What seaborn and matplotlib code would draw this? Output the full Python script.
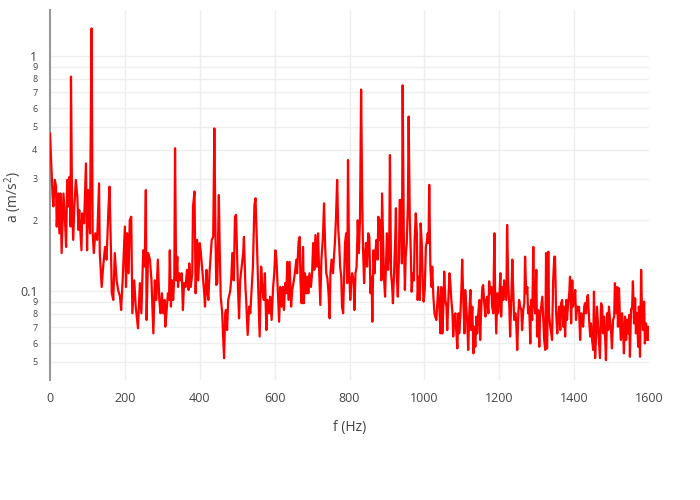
import matplotlib
matplotlib.use('Agg')
import matplotlib.pyplot as plt
import seaborn as sns
import pandas as pd
import numpy as np


# spectrum (frequency in Hz, acceleration in m/s^2)
freq_0 = [0, 7, 9, 13, 16, 18, 22, 25, 28, 31, 36, 40, 43, 46, 49, 52, 55, 56, 59, 62,
          65, 69, 73, 76, 78, 84, 86, 91, 96, 99, 102, 107, 108, 111, 114, 117, 121, 126,
          131, 133, 138, 142, 147, 151, 156, 159, 163, 165, 169, 173, 178, 182, 187, 190,
          194, 200, 203, 206, 210, 213, 217, 220, 225, 229, 235, 240, 244, 249, 253, 256,
          258, 262]
acc_0 = [0.469, 0.252, 0.229, 0.297, 0.278, 0.188, 0.260, 0.176, 0.260, 0.145, 0.260,
         0.200, 0.154, 0.297, 0.229, 0.306, 0.188, 0.817, 0.229, 0.165, 0.229, 0.297,
         0.252, 0.182, 0.221, 0.149, 0.214, 0.194, 0.349, 0.149, 0.269, 0.176, 0.338,
         1.31, 0.176, 0.145, 0.176, 0.165, 0.287, 0.145, 0.104, 0.127, 0.154, 0.136,
         0.221, 0.278, 0.145, 0.098, 0.0916, 0.145, 0.111, 0.101, 0.0946, 0.083, 0.111,
         0.188, 0.104, 0.176, 0.119, 0.200, 0.207, 0.0804, 0.111, 0.0858, 0.0694, 0.108,
         0.0804, 0.149, 0.127, 0.269, 0.0753, 0.145]

freq_1 = [267, 271, 276, 280, 284, 288, 292, 295, 299, 302, 306, 308, 311, 315, 318, 320,
          323, 326, 329, 332, 334, 337, 340, 342, 345, 348, 352, 355, 358, 362, 366, 370,
          372, 376, 380, 382, 386, 389, 393, 396, 400, 403, 406, 409, 412, 414, 418, 420,
          423, 426, 429, 432, 436, 439, 442, 444, 447, 451, 453, 456, 460, 462, 465, 468,
          470, 473, 476, 478, 481, 484, 487, 491, 494, 497, 500, 502, 505, 508, 512, 516,
          518, 522, 524, 528, 532, 535, 539, 542, 546, 549, 553]
acc_1 = [0.136, 0.111, 0.066, 0.111, 0.0916, 0.136, 0.0916, 0.0804, 0.0978, 0.0804,
         0.0916, 0.0705, 0.0804, 0.0978, 0.0916, 0.149, 0.0858, 0.111, 0.0916, 0.115,
         0.405, 0.111, 0.140, 0.104, 0.119, 0.111, 0.119, 0.083, 0.108, 0.104, 0.123,
         0.101, 0.131, 0.104, 0.119, 0.229, 0.265, 0.0978, 0.165, 0.111, 0.160, 0.145,
         0.127, 0.111, 0.0978, 0.0858, 0.123, 0.101, 0.0916, 0.119, 0.140, 0.165, 0.170,
         0.492, 0.176, 0.106, 0.108, 0.256, 0.160, 0.0946, 0.0804, 0.066, 0.0518, 0.0804,
         0.083, 0.0682, 0.0916, 0.0946, 0.0993, 0.111, 0.145, 0.111, 0.207, 0.211, 0.136,
         0.104, 0.0765, 0.111, 0.127, 0.145, 0.170, 0.104, 0.0916, 0.065, 0.0858, 0.0804,
         0.104, 0.127, 0.232, 0.248, 0.154]

freq_2 = [560, 564, 567, 571, 574, 578, 581, 585, 588, 592, 596, 599, 602, 605, 609, 612,
          615, 619, 622, 625, 628, 631, 634, 637, 640, 644, 647, 651, 654, 658, 660, 664,
          667, 669, 672, 676, 678, 681, 684, 687, 690, 693, 697, 700, 703, 706, 709, 713,
          716, 718, 722, 725, 729, 732, 735, 738, 741, 744, 747, 749, 752, 756, 758, 761,
          764, 767, 770, 772, 775, 778, 780, 783, 786, 788, 791, 794, 796, 799, 802, 804,
          807, 811, 813, 816, 819, 822, 825, 828, 831, 834, 836, 839, 842, 844, 847, 850]
acc_2 = [0.064, 0.127, 0.104, 0.0916, 0.119, 0.0682, 0.0916, 0.0804, 0.0946, 0.0753,
         0.104, 0.119, 0.149, 0.136, 0.0946, 0.074, 0.104, 0.0858, 0.104, 0.083, 0.108,
         0.0978, 0.133, 0.0916, 0.133, 0.0858, 0.101, 0.110, 0.119, 0.136, 0.119, 0.162,
         0.170, 0.111, 0.0887, 0.154, 0.0887, 0.119, 0.0978, 0.115, 0.0978, 0.119, 0.104,
         0.119, 0.160, 0.123, 0.173, 0.127, 0.176, 0.136, 0.0872, 0.136, 0.170, 0.236,
         0.154, 0.119, 0.113, 0.0978, 0.0765, 0.119, 0.136, 0.119, 0.136, 0.160, 0.207,
         0.297, 0.182, 0.165, 0.127, 0.115, 0.0858, 0.0804, 0.119, 0.160, 0.176, 0.108,
         0.361, 0.127, 0.0916, 0.104, 0.119, 0.111, 0.083, 0.119, 0.127, 0.200, 0.145,
         0.200, 0.72, 0.244, 0.154, 0.108, 0.145, 0.160, 0.127, 0.176]

freq_3 = [853, 856, 859, 861, 864, 867, 869, 872, 875, 877, 880, 883, 885, 887, 890, 892,
          895, 898, 900, 903, 906, 908, 911, 914, 916, 919, 922, 924, 926, 929, 932, 934,
          937, 940, 942, 945, 948, 950, 953, 956, 958, 961, 964, 966, 969, 972, 974, 977,
          980, 982, 985, 988, 990, 993, 996, 998, 1001, 1004, 1006, 1009, 1011, 1013, 1016,
          1019, 1021, 1024, 1027, 1029, 1032, 1035, 1037, 1040, 1043, 1045, 1048, 1051,
          1053, 1056, 1059, 1061, 1064, 1067, 1069, 1072, 1075, 1077, 1080, 1083, 1085,
          1088, 1091, 1093, 1096, 1099, 1101, 1104, 1107, 1109, 1112, 1115, 1117, 1120,
          1123, 1125, 1128, 1131, 1133, 1136, 1139, 1141, 1144]
acc_3 = [0.170, 0.0978, 0.115, 0.074, 0.149, 0.119, 0.145, 0.165, 0.136, 0.207, 0.165,
         0.200, 0.111, 0.260, 0.160, 0.115, 0.0946, 0.140, 0.176, 0.123, 0.145, 0.379,
         0.119, 0.104, 0.0887, 0.119, 0.165, 0.225, 0.119, 0.0946, 0.136, 0.244, 0.244,
         0.131, 0.75, 0.176, 0.101, 0.140, 0.160, 0.236, 0.552, 0.207, 0.140, 0.0993,
         0.119, 0.111, 0.165, 0.214, 0.176, 0.0916, 0.115, 0.0916, 0.194, 0.160, 0.104,
         0.0901, 0.101, 0.154, 0.160, 0.176, 0.160, 0.283, 0.127, 0.104, 0.127, 0.0946,
         0.0804, 0.0778, 0.0753, 0.0916, 0.104, 0.0858, 0.066, 0.104, 0.066, 0.0887,
         0.121, 0.0916, 0.0858, 0.0682, 0.0916, 0.119, 0.111, 0.0916, 0.0804, 0.064,
         0.0778, 0.0804, 0.0682, 0.057, 0.0804, 0.066, 0.0778, 0.104, 0.136, 0.0916,
         0.066, 0.101, 0.0858, 0.0705, 0.0561, 0.0804, 0.101, 0.0682, 0.0858, 0.0543,
         0.0705, 0.0579, 0.0778, 0.066, 0.0804]

freq_4 = [1147, 1149, 1152, 1155, 1157, 1160, 1163, 1165, 1168, 1171, 1173, 1176, 1179,
          1181, 1184, 1187, 1189, 1192, 1195, 1197, 1200, 1203, 1205, 1208, 1211, 1213,
          1216, 1219, 1221, 1224, 1227, 1229, 1232, 1235, 1237, 1240, 1243, 1245, 1248,
          1251, 1253, 1256, 1259, 1261, 1264, 1267, 1269, 1272, 1275, 1277, 1280, 1283,
          1285, 1288, 1291, 1293, 1296, 1299, 1301, 1304, 1307, 1309, 1312, 1315, 1317,
          1320, 1323, 1325, 1328, 1331, 1333, 1336, 1339, 1341, 1344, 1347, 1349, 1352,
          1355, 1357, 1360, 1363, 1365, 1368, 1371, 1373, 1376, 1379, 1381, 1384, 1387,
          1389, 1392, 1395, 1397, 1400, 1403, 1405, 1408, 1411]
acc_4 = [0.0916, 0.0619, 0.0858, 0.104, 0.106, 0.0887, 0.0778, 0.0916, 0.0946, 0.0804,
         0.110, 0.0978, 0.104, 0.0858, 0.0804, 0.176, 0.0978, 0.066, 0.0978, 0.0804,
         0.0916, 0.119, 0.0778, 0.104, 0.0916, 0.111, 0.101, 0.0916, 0.191, 0.108,
         0.0858, 0.064, 0.0916, 0.136, 0.104, 0.0753, 0.0804, 0.0753, 0.0561, 0.0804,
         0.0916, 0.0858, 0.083, 0.0682, 0.083, 0.0887, 0.140, 0.0978, 0.104, 0.0804,
         0.0858, 0.0598, 0.0916, 0.0753, 0.154, 0.0916, 0.0804, 0.123, 0.064, 0.083,
         0.0579, 0.0778, 0.0858, 0.0946, 0.0804, 0.0619, 0.0561, 0.145, 0.057, 0.147,
         0.0804, 0.0705, 0.066, 0.0619, 0.111, 0.140, 0.140, 0.0804, 0.066, 0.0778,
         0.0858, 0.0682, 0.0887, 0.0916, 0.0705, 0.0858, 0.064, 0.0916, 0.0753, 0.0887,
         0.0978, 0.115, 0.0728, 0.111, 0.0858, 0.0916, 0.101, 0.0753, 0.0858, 0.083]

freq_5 = [1413, 1416, 1419, 1421, 1424, 1427, 1429, 1432, 1435, 1437, 1440, 1443, 1445,
          1448, 1451, 1453, 1456, 1459, 1461, 1464, 1467, 1469, 1472, 1475, 1477, 1480,
          1483, 1485, 1488, 1491, 1493, 1496, 1499, 1501, 1504, 1507, 1509, 1512, 1515,
          1517, 1520, 1523, 1525, 1528, 1531, 1533, 1536, 1539, 1541, 1544, 1547, 1549,
          1552, 1555, 1557, 1560, 1563, 1565, 1568, 1571, 1573, 1576, 1579, 1581, 1584,
          1587, 1589, 1592, 1595, 1597, 1599]
acc_5 = [0.0858, 0.0619, 0.0804, 0.0778, 0.0705, 0.0858, 0.0887, 0.0804, 0.0946, 0.0962,
         0.0753, 0.064, 0.0728, 0.0619, 0.0561, 0.0993, 0.0518, 0.066, 0.0858, 0.0705,
         0.0579, 0.0518, 0.0887, 0.0858, 0.066, 0.0778, 0.0619, 0.0508, 0.0804, 0.0682,
         0.0858, 0.0753, 0.066, 0.057, 0.0753, 0.0778, 0.108, 0.0804, 0.104, 0.0705,
         0.1026, 0.0705, 0.0619, 0.0804, 0.066, 0.0543, 0.0778, 0.0619, 0.0753, 0.066,
         0.0791, 0.0525, 0.083, 0.0858, 0.110, 0.0728, 0.0931, 0.066, 0.0804, 0.0579,
         0.0858, 0.0525, 0.123, 0.0858, 0.0682, 0.0901, 0.0598, 0.0728, 0.0619, 0.0705,
         0.0619]

y_minor = [0.05, 0.06, 0.07, 0.08, 0.09, 0.2, 0.3, 0.4, 0.5, 0.6, 0.7, 0.8, 0.9]
y_major = [0.1, 1]
x_ticks = [0, 200, 400, 600, 800, 1000, 1200, 1400, 1600]

df = pd.DataFrame({
    'f': freq_0 + freq_1 + freq_2 + freq_3 + freq_4 + freq_5,
    'a': acc_0 + acc_1 + acc_2 + acc_3 + acc_4 + acc_5,
})

sns.set_style('white')
plt.rcParams['font.family'] = ['Open Sans', 'DejaVu Sans']
plt.rcParams['mathtext.fontset'] = 'custom'
plt.rcParams['mathtext.rm'] = 'Open Sans'

fig = plt.figure(figsize=(7, 5), dpi=100)
ax = fig.add_axes([50 / 700, 120 / 500, 599 / 700, 370 / 500])

sns.lineplot(data=df, x='f', y='a', ax=ax, color='#ff0000', linewidth=1.6,
             estimator=None, sort=False, zorder=3)

ax.set_yscale('log')
ax.set_xlim(0, 1600)
ax.set_ylim(10 ** (-324 / 235), 10 ** (46 / 235))

# plotly-like grid: every log step and every 200 Hz
for v in y_minor + y_major:
    ax.axhline(v, color='#eeeeee', linewidth=1, zorder=1)
for v in x_ticks[1:-1]:
    ax.axvline(v, color='#eeeeee', linewidth=1, zorder=1)

ax.yaxis.set_minor_locator(matplotlib.ticker.NullLocator())
ticks = sorted(y_minor + y_major)
ax.set_yticks(ticks)
labels = []
for t in ticks:
    if t in y_major:
        labels.append('0.1' if t == 0.1 else '1')
    else:
        labels.append(str(int(round(t / (0.1 if t >= 0.1 else 0.01)))))
ax.set_yticklabels(labels)
for t, lab in zip(ticks, ax.get_yticklabels()):
    lab.set_fontsize(9 if t in y_major else 6.5)
ax.set_xticks(x_ticks)
ax.set_xticklabels([str(x) for x in x_ticks], fontsize=9)

ax.tick_params(axis='both', length=0, colors='#444444')
ax.tick_params(axis='y', pad=9)
ax.tick_params(axis='x', pad=9)

for s in ['top', 'right', 'bottom']:
    ax.spines[s].set_visible(False)
ax.spines['left'].set_color('#999999')
ax.spines['left'].set_linewidth(1.5)

ax.set_xlabel('f (Hz)', fontsize=10, color='#444444')
ax.set_ylabel('a (m/s$^2$)', fontsize=10, color='#444444')
ax.xaxis.set_label_coords(300 / 599, -40 / 370)
ax.yaxis.set_label_coords(-26 / 599, 183 / 370)

fig.savefig('out.png', dpi=100)
